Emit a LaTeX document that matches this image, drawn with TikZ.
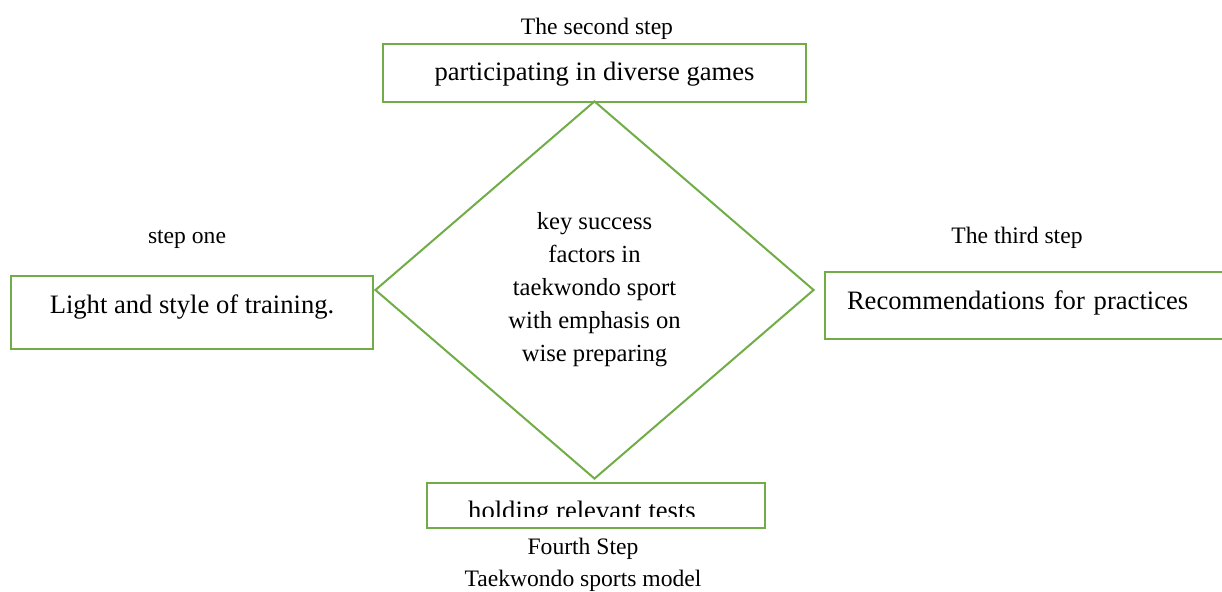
\documentclass[tikz,border=0pt]{standalone}
\usepackage{fontspec}
\setmainfont{Liberation Serif}
\usepackage{tikz}
\usetikzlibrary{shapes.geometric,positioning}
\definecolor{leafgreen}{RGB}{112,173,71}

\begin{document}
\begin{tikzpicture}[x=0.5pt,y=-0.5pt,
	stepbox/.style={draw=leafgreen,line width=1.25pt,inner sep=0pt,font=\fontsize{13.3}{16}\selectfont},
	steplabel/.style={anchor=base,inner sep=0pt,font=\fontsize{11.8}{14}\selectfont}]
	\useasboundingbox (0,0) rectangle (1222,592);
	\clip (0,0) rectangle (1222,592);

	\node[diamond,draw=leafgreen,line width=1pt,inner sep=0pt,minimum width=219.5pt,minimum height=189pt,
		align=center,font=\fontsize{12.3}{16.5}\selectfont] (core) at (594.5,290)
		{key success\\factors in\\taekwondo sport\\with emphasis on\\wise preparing};

	\node[stepbox,minimum width=211.5pt,minimum height=29pt,text height=9pt,text depth=1pt] (qTwo) at (594.5,73) {participating in diverse games};
	\node[stepbox,minimum width=181pt,minimum height=36.5pt,text height=8pt,text depth=7pt] (qOne) at (192,312.5) {Light and style of training.};
	\node[stepbox,minimum width=205pt,minimum height=33.5pt,text height=8pt,text depth=4pt,
		inner xsep=11pt,text width=183pt,align=left] (qThree) at (1030,305.5) {Recommendations for practices};
	\node[stepbox,minimum width=169pt,minimum height=22.5pt] (qFour) at (596,505.5) {};
	\begin{scope}
		\clip (qFour.north west) rectangle ([yshift=-5.5pt]qFour.east);
		\node[anchor=base,inner sep=0pt,font=\fontsize{13.3}{16}\selectfont] (tFour) at (582,520) {holding relevant tests};
	\end{scope}

	\node[steplabel] (lTwo) at (597,34.5) {The second step};
	\node[steplabel] (lOne) at (187,244) {step one};
	\node[steplabel] (lThree) at (1017,243.5) {The third step};
	\node[steplabel] (lFour) at (583,555) {Fourth Step};
	\node[steplabel] (lModel) at (583,587) {Taekwondo sports model};
\end{tikzpicture}
\end{document}
